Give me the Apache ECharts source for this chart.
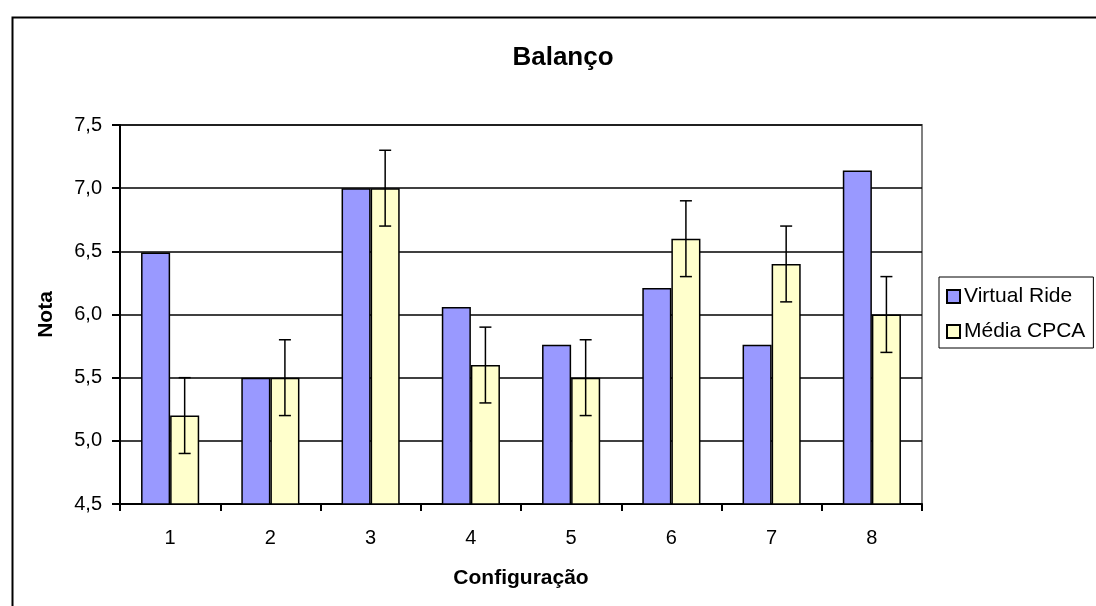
<!DOCTYPE html>
<html>
<head>
<meta charset="utf-8">
<script src="https://cdn.jsdelivr.net/npm/echarts@6/dist/echarts.min.js"></script>
<style>
html,body{margin:0;padding:0;background:#fff;}
#c{width:1096px;height:606px;}
</style>
</head>
<body>
<div id="c"></div>
<script>
var categories = ['1','2','3','4','5','6','7','8'];
var virtualRide = [6.49, 5.50, 7.00, 6.06, 5.76, 6.21, 5.76, 7.14];
var mediaCPCA = [5.20, 5.50, 7.00, 5.60, 5.50, 6.60, 6.40, 6.00];
var mediaErrLow = [4.90, 5.20, 6.70, 5.30, 5.20, 6.30, 6.10, 5.70];
var mediaErrHigh = [5.50, 5.80, 7.30, 5.90, 5.80, 6.90, 6.70, 6.30];
var yTicks = ['4,5','5,0','5,5','6,0','6,5','7,0','7,5'];

var FONT = '"Liberation Sans", Arial, sans-serif';
var errData = categories.map(function (c, i) { return [i, mediaErrLow[i], mediaErrHigh[i]]; });

var chart = echarts.init(document.getElementById('c'));
chart.setOption({
  animation: false,
  backgroundColor: '#fff',
  textStyle: { fontFamily: FONT },
  graphic: [{
    type: 'rect', left: 10, top: 15, silent: true, z: -1,
    shape: { width: 1200, height: 700 },
    style: { fill: 'none', stroke: '#000', lineWidth: 2 }
  }],
  title: {
    text: 'Balanço', left: 558, top: 40, textAlign: 'center',
    textStyle: { fontFamily: FONT, fontSize: 26, fontWeight: 'bold', color: '#000' }
  },
  legend: {
    orient: 'vertical', left: 939, top: 277,
    itemWidth: 13, itemHeight: 13, itemGap: 14,
    padding: [9, 8, 6, 7],
    borderColor: '#000', borderWidth: 1,
    textStyle: { fontFamily: FONT, fontSize: 21, color: '#000', padding: [0, 0, 0, -1] },
    data: [{ name: 'Virtual Ride', icon: 'rect' }, { name: 'Média CPCA', icon: 'rect' }]
  },
  grid: {
    left: 120, right: 174, top: 125, bottom: 102,
    show: true, borderColor: '#808080', borderWidth: 2, backgroundColor: 'transparent'
  },
  xAxis: {
    type: 'category', data: categories,
    name: 'Configuração', nameLocation: 'middle', nameGap: 64,
    nameTextStyle: { fontFamily: FONT, fontSize: 21, fontWeight: 'bold', color: '#000' },
    axisLine: { lineStyle: { color: '#000', width: 2 } },
    axisTick: { show: true, length: 7, lineStyle: { color: '#000', width: 2 } },
    axisLabel: { fontFamily: FONT, fontSize: 20, color: '#000', margin: 24 },
    splitLine: { show: false }
  },
  yAxis: {
    type: 'value', min: 4.5, max: 7.5, interval: 0.5,
    name: 'Nota', nameLocation: 'middle', nameGap: 63, nameRotate: 90,
    nameTextStyle: { fontFamily: FONT, fontSize: 21, fontWeight: 'bold', color: '#000' },
    axisLine: { show: true, lineStyle: { color: '#000', width: 2 } },
    axisTick: { show: true, length: 8, lineStyle: { color: '#000', width: 2 } },
    axisLabel: {
      fontFamily: FONT, fontSize: 20, color: '#000', margin: 18,
      formatter: function (v) { var i = Math.round((v - 4.5) / 0.5); return yTicks[i]; }
    },
    splitLine: { show: true, lineStyle: { color: '#000', width: 1.5 } }
  },
  series: [
    {
      name: 'Virtual Ride', type: 'bar', data: virtualRide,
      barGap: '0%', barCategoryGap: '42%',
      itemStyle: { color: '#9999FF', borderColor: '#000', borderWidth: 1.5 }
    },
    {
      name: 'Média CPCA', type: 'bar', data: mediaCPCA,
      barGap: '0%', barCategoryGap: '42%',
      itemStyle: { color: '#FFFFCC', borderColor: '#000', borderWidth: 1.5 }
    },
    {
      name: 'err', type: 'custom', data: errData, z: 10, silent: true,
      renderItem: function (params, api) {
        var i = api.value(0);
        var lo = api.coord([i, api.value(1)]);
        var hi = api.coord([i, api.value(2)]);
        var cw = api.size([1, 0])[0];
        var x = lo[0] + cw * 0.145;
        var cap = 6;
        var st = { stroke: '#000', lineWidth: 1.5 };
        return {
          type: 'group',
          children: [
            { type: 'line', shape: { x1: x, y1: lo[1], x2: x, y2: hi[1] }, style: st },
            { type: 'line', shape: { x1: x - cap, y1: lo[1], x2: x + cap, y2: lo[1] }, style: st },
            { type: 'line', shape: { x1: x - cap, y1: hi[1], x2: x + cap, y2: hi[1] }, style: st }
          ]
        };
      }
    }
  ]
});
</script>
</body>
</html>
